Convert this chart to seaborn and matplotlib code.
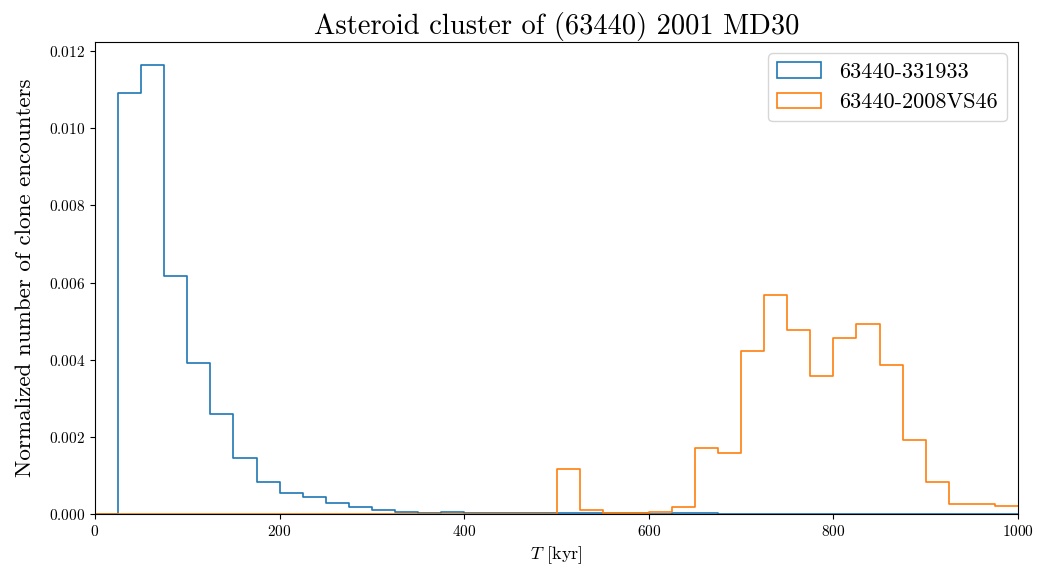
import numpy as np
import pandas as pd
import matplotlib
matplotlib.use("Agg")
import matplotlib.pyplot as plt
from matplotlib.patches import Patch
import seaborn as sns

# histogram bins (kyr)
bin_edges = list(range(0, 1025, 25))
bin_centers = [e + 12.5 for e in bin_edges[:-1]]

# normalized heights per bin
pair_a = "63440-331933"
heights_a = [
    0.0, 0.01092, 0.01165, 0.00617, 0.00391, 0.00260, 0.00146, 0.00084,
    0.00055, 0.00044, 0.00029, 0.00018, 0.00012, 0.00006, 0.00004, 0.00005,
    0.00003, 0.00003, 0.00002, 0.00003, 0.00002, 0.00002, 0.00002, 0.00002,
    0.00001, 0.00002, 0.00002, 0.00001, 0.00001, 0.00001, 0.00001, 0.00001,
    0.00001, 0.00001, 0.00001, 0.00001, 0.00001, 0.00001, 0.00001, 0.00001,
]
pair_b = "63440-2008VS46"
heights_b = [
    0.0, 0.0, 0.0, 0.0, 0.0, 0.0, 0.0, 0.0,
    0.0, 0.0, 0.0, 0.0, 0.0, 0.0, 0.0, 0.0,
    0.0, 0.0, 0.0, 0.0, 0.00116, 0.00012, 0.00002, 0.00002,
    0.00005, 0.00019, 0.00172, 0.00158, 0.00422, 0.00567, 0.00476, 0.00359,
    0.00456, 0.00492, 0.00387, 0.00192, 0.00083, 0.00027, 0.00027, 0.00020,
]

df = pd.DataFrame({
    "T": bin_centers + bin_centers,
    "h": heights_a + heights_b,
    "pair": [pair_a] * len(heights_a) + [pair_b] * len(heights_b),
})

plt.rcParams["font.family"] = "serif"
plt.rcParams["font.serif"] = ["cmr10"]
plt.rcParams["mathtext.fontset"] = "cm"
plt.rcParams["axes.formatter.use_mathtext"] = True

fig, ax = plt.subplots(figsize=(10.37, 5.70), dpi=100)
fig.subplots_adjust(left=0.0916, right=0.9817, top=0.926, bottom=0.098)

colors = {pair_a: "#1f77b4", pair_b: "#ff7f0e"}
for name in [pair_a, pair_b]:
    sns.histplot(data=df[df["pair"] == name], x="T", weights="h", bins=bin_edges,
                 element="step", fill=False, color=colors[name], linewidth=1.2,
                 ax=ax)

ax.set_xlim(0, 1000)
ax.set_ylim(0, max(heights_a) * 1.05)
ax.set_xlabel("$T$ [kyr]", fontsize=13)
ax.set_ylabel("Normalized number of clone encounters", fontsize=16.6, labelpad=10)
ax.set_title("Asteroid cluster of (63440) 2001 MD30", fontsize=20.5)
ax.tick_params(labelsize=11)

handles = [Patch(facecolor="none", edgecolor=colors[n], linewidth=1.2) for n in [pair_a, pair_b]]
ax.legend(handles, [pair_a, pair_b], loc="upper right", fontsize=16)

fig.savefig("out.png", dpi=100)
